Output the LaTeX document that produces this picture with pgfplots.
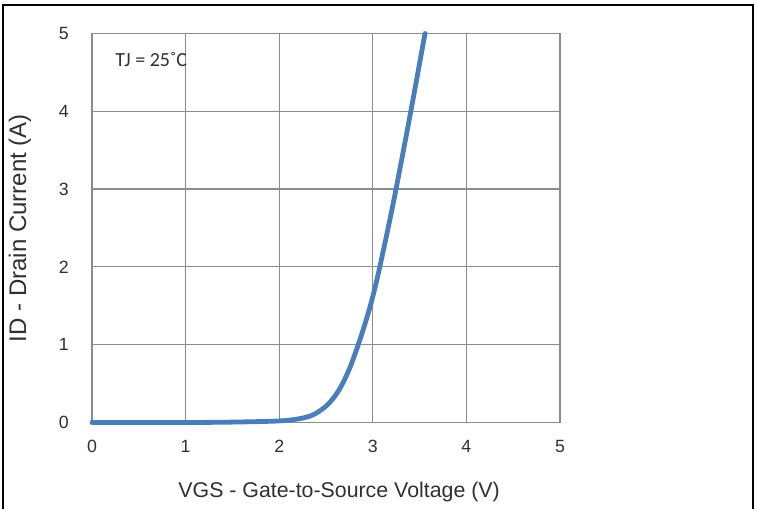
\documentclass[border=0pt]{standalone}
\usepackage{pgfplots}
\pgfplotsset{compat=1.18}
\usepackage{fontspec}
\setmainfont{Liberation Sans}
\newfontfamily\calibri{Carlito}
\definecolor{curveblue}{HTML}{4A7EBB}
\definecolor{gridgray}{HTML}{8C8C8C}
\definecolor{textgray}{HTML}{303030}

% transfer characteristic, VGS (V) vs ID (A)
\pgfplotstableread{
vgs   id
0.000 0.000
1.000 0.000
1.500 0.005
2.000 0.020
2.220 0.050
2.365 0.100
2.510 0.220
2.630 0.400
2.740 0.660
2.845 1.000
2.940 1.360
3.000 1.620
3.060 1.920
3.150 2.420
3.240 2.950
3.400 3.960
3.558 5.000
}\transfer

\begin{document}
\begin{tikzpicture}
\useasboundingbox (0,0) rectangle (568.5pt,381.75pt);
\draw[line width=1.5pt] (2.25pt,-5pt) -- (2.25pt,378pt) -- (564.4pt,378pt) -- (564.4pt,-5pt);
\begin{axis}[
  at={(69pt,64.875pt)}, anchor=south west,
  scale only axis, width=351pt, height=291.75pt,
  xmin=0, xmax=5, ymin=0, ymax=5,
  xtick={0,...,5}, ytick={0,...,5},
  grid=major,
  major grid style={gridgray, line width=0.9pt},
  axis line style={gridgray, line width=0.9pt},
  major tick length=0pt,
  /pgf/number format/assume math mode=true,
  tick label style={font=\fontsize{13.3}{15}\selectfont, text=textgray},
  xticklabel style={yshift=-10pt},
  yticklabel style={xshift=-14pt},
  xlabel={VGS - Gate-to-Source Voltage (V)},
  ylabel={ID - Drain Current (A)},
  xlabel style={font=\fontsize{16}{19}\selectfont, text=textgray,
    at={(axis description cs:0.528,-0.1787)}, anchor=center},
  ylabel style={font=\fontsize{18}{21}\selectfont, text=textgray,
    at={(axis description cs:-0.1538,0.5)}, anchor=center},
  clip=false,
]
\addplot[curveblue, line width=3.6pt, smooth, line cap=round] table[x=vgs, y=id] {\transfer};
\node[anchor=west, font=\calibri\fontsize{15}{17}\selectfont, text=textgray, inner sep=0pt]
  at (axis cs:0.246,4.66) {TJ = 25˚C};
\end{axis}
\end{tikzpicture}
\end{document}
